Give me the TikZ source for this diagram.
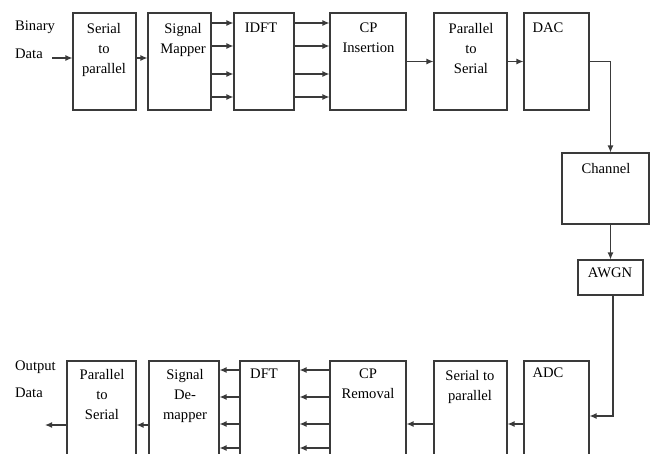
\documentclass[tikz,border=0pt]{standalone}
\usepackage{fontspec}
\setmainfont{Liberation Serif}
\usetikzlibrary{arrows.meta}
\definecolor{linegray}{HTML}{3A3A3A}

\begin{document}
\begin{tikzpicture}[
    x=1pt, y=-1pt,
    block/.style={draw=linegray, line width=1.1pt, inner sep=0pt,
                  minimum width=#1, minimum height=97pt},
    lbl/.style={inner sep=0pt, align=center, anchor=north,
                font=\fontsize{14.6}{20}\selectfont},
    arrow/.style={draw=linegray, line width=1.2pt, -{Latex[length=7pt,width=6pt]}},
]
\useasboundingbox (0,0) rectangle (650,453);
\clip (0,0) rectangle (650,453);

% Transmitter
\node[block=63pt] (s2pT)   at (104.5,61.5) {};
\node[block=63pt] (mapper) at (179.5,61.5) {};
\node[block=60pt] (idft)   at (264,61.5) {};
\node[block=76pt] (cpins)  at (368,61.5) {};
\node[block=73pt] (p2sT)   at (470.5,61.5) {};
\node[block=65pt] (dac)    at (556.5,61.5) {};

\node[lbl] (s2pTtxt)   at (104,23)   {Serial\\to\\parallel};
\node[lbl] (mappertxt) at (183,23)   {Signal\\Mapper};
\node[lbl] (idfttxt)   at (261,23)   {IDFT};
\node[lbl] (cpinstxt)  at (368.5,23) {CP\\Insertion};
\node[lbl] (p2sTtxt)   at (471,23)   {Parallel\\to\\Serial};
\node[lbl] (dactxt)    at (548,23)   {DAC};
\node[lbl, align=left, anchor=north west] (bintxt) at (15,21) {Binary\\[8pt]Data};

% Channel
\node[block=87pt, minimum height=71pt] (chan) at (605.5,188.5) {};
\node[block=65pt, minimum height=35pt] (awgn) at (610.5,277.5) {};
\node[lbl] (chantxt) at (606,163) {Channel};
\node[lbl] (awgntxt) at (610,268) {AWGN};

% Receiver
\node[block=76pt, minimum height=119pt] (cprem) at (368,420.5) {};
\node[block=73pt, minimum height=119pt] (s2pB)  at (470.5,420.5) {};
\node[block=65pt, minimum height=119pt] (adc)   at (556.5,420.5) {};
\node[block=59pt, minimum height=119pt] (dft)   at (269.5,420.5) {};
\node[block=70pt, minimum height=119pt] (demap) at (184,420.5) {};
\node[block=69pt, minimum height=119pt] (p2sB)  at (101.5,420.5) {};

\node[lbl] (cpremtxt) at (368,369) {CP\\Removal};
\node[lbl] (s2pBtxt)  at (470,370) {Serial to\\parallel};
\node[lbl] (adctxt)   at (548,368) {ADC};
\node[lbl] (dfttxt)   at (264,369) {DFT};
\node[lbl] (demaptxt) at (185,369) {Signal\\De-\\mapper};
\node[lbl] (p2sBtxt)  at (102,369) {Parallel\\to\\Serial};
\node[lbl, align=left, anchor=north west] (outtxt) at (15,361) {Output\\[7pt]Data};

% Flechas
\coordinate (bin) at (52,58);
\draw[arrow] (bin) -- (s2pT.west |- bin);
\draw[arrow] (s2pT.east |- bin) -- (mapper.west |- bin);
\foreach \y in {23,46,74,97} {
    \draw[arrow] (mapper.east |- 0,\y) -- (idft.west |- 0,\y);
    \draw[arrow] (idft.east |- 0,\y) -- (cpins.west |- 0,\y);
}
\draw[arrow] (cpins) -- (p2sT);
\draw[arrow] (p2sT) -- (dac);
\draw[arrow] (dac.east) -| ([xshift=5pt]chan.north);
\draw[arrow] (awgn.north |- chan.south) -- (awgn.north);
\draw[arrow] ([xshift=2.5pt]awgn.south) |- (adc.east |- 0,416);
\draw[arrow] (adc.west |- 0,424) -- (s2pB.east |- 0,424);
\draw[arrow] (s2pB.west |- 0,424) -- (cprem.east |- 0,424);
\foreach \y in {370,397,424,448} {
    \draw[arrow] (cprem.west |- 0,\y) -- (dft.east |- 0,\y);
    \draw[arrow] (dft.west |- 0,\y) -- (demap.east |- 0,\y);
}
\draw[arrow] (demap.west |- 0,425) -- (p2sB.east |- 0,425);
\coordinate (out) at (45,425);
\draw[arrow] (p2sB.west |- out) -- (out);

\end{tikzpicture}
\end{document}
